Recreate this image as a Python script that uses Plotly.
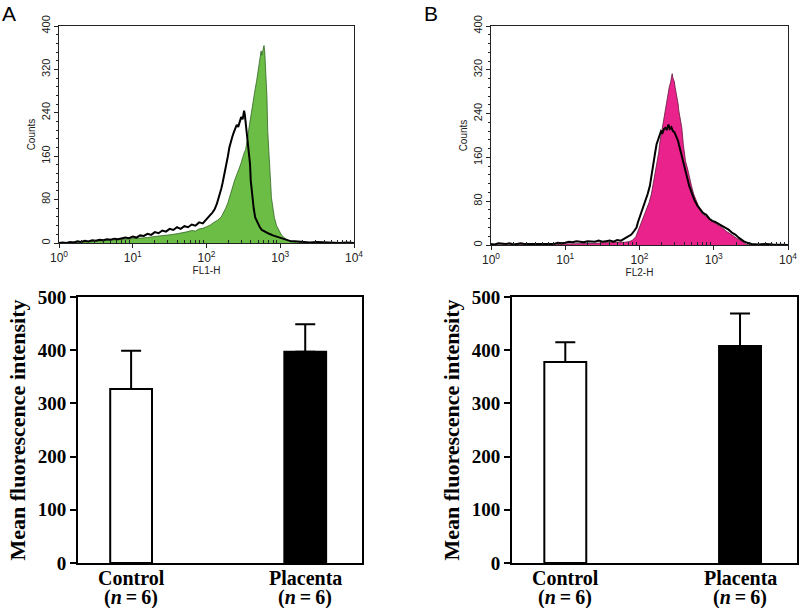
import plotly.graph_objects as go

# ---------------- data ----------------
# Panel A histogram (FL1-H): x in decades (log10 of channel), y counts
a_fill_log = [0.00,0.10,0.20,0.30,0.40,0.50,0.60,0.70,0.80,0.90,1.00,1.10,1.20,1.30,1.40,1.50,1.60,1.70,1.75,1.80,1.85,1.90,1.95,2.00,2.05,2.10,2.15,2.20,2.23,2.26,2.29,2.31,2.34,2.36,2.38,2.41,2.43,2.45,2.47,2.49,2.51,2.53,2.54,2.56,2.57,2.59,2.60,2.62,2.64,2.66,2.68,2.70,2.71,2.73,2.74,2.75,2.76,2.77,2.78,2.79,2.80,2.81,2.82,2.83,2.84,2.85,2.87,2.88,2.90,2.92,2.95,2.98,3.02,3.07,3.12,3.20,3.30,3.40,4.00]
a_fill_cnt = [0,1,1,2,2,3,4,4,6,6,8,9,10,12,13,15,17,19,21,23,22,26,27,30,33,38,42,48,55,64,74,84,98,106,115,126,135,140,148,158,166,172,178,195,207,225,238,252,268,284,299,318,330,342,354,346,352,360,364,352,330,300,268,207,176,146,110,84,62,47,32,23,14,8,4,2,1,0,0]
a_line_log = [0.00,0.05,0.10,0.15,0.20,0.25,0.30,0.35,0.40,0.45,0.50,0.55,0.60,0.65,0.70,0.75,0.80,0.85,0.90,0.95,1.00,1.05,1.10,1.15,1.20,1.25,1.30,1.35,1.40,1.45,1.50,1.55,1.60,1.65,1.70,1.75,1.80,1.85,1.90,1.95,2.00,2.04,2.08,2.11,2.14,2.17,2.20,2.22,2.25,2.27,2.29,2.31,2.33,2.35,2.37,2.39,2.41,2.43,2.45,2.47,2.49,2.51,2.52,2.53,2.54,2.55,2.56,2.58,2.59,2.60,2.61,2.62,2.64,2.66,2.69,2.72,2.75,2.80,2.85,2.90,2.95,3.00,3.05,3.10,3.15,3.20,3.30,3.40,3.50,3.60,3.70,3.80,3.90,4.00]
a_line_cnt = [0,1,0,2,1,3,2,4,3,5,4,6,5,7,6,8,7,9,10,9,12,10,14,13,17,15,20,18,23,21,26,24,29,26,31,29,34,32,38,36,45,50,56,62,72,84,100,112,130,146,160,176,188,196,204,210,218,214,226,232,228,244,236,224,207,190,176,160,146,115,100,84,64,47,38,30,24,20,17,14,12,9,8,5,3,3,2,1,2,1,1,0,1,0]

# Panel B histogram (FL2-H)
b_fill_log = [0.00,0.50,0.80,1.00,1.10,1.20,1.30,1.40,1.50,1.60,1.70,1.80,1.85,1.90,1.95,2.00,2.05,2.09,2.13,2.16,2.18,2.20,2.22,2.24,2.26,2.27,2.29,2.30,2.32,2.34,2.36,2.38,2.40,2.42,2.44,2.45,2.47,2.48,2.50,2.52,2.53,2.55,2.57,2.59,2.61,2.62,2.65,2.67,2.70,2.73,2.77,2.82,2.86,2.90,2.94,2.98,3.04,3.11,3.17,3.24,3.31,3.38,3.44,3.50,4.00]
b_fill_cnt = [0,0,1,2,2,3,3,3,4,4,5,5,6,8,15,32,48,62,78,93,108,123,138,153,170,184,200,214,230,245,260,275,288,298,313,305,298,288,275,258,245,230,214,184,165,153,138,123,108,93,78,62,55,52,47,44,38,32,25,19,12,7,1,0,0]
b_line_log = [0.00,0.05,0.10,0.15,0.20,0.25,0.30,0.35,0.40,0.45,0.50,0.55,0.60,0.65,0.70,0.75,0.80,0.85,0.90,0.95,1.00,1.05,1.10,1.15,1.20,1.25,1.30,1.35,1.40,1.45,1.50,1.55,1.60,1.65,1.70,1.75,1.80,1.85,1.89,1.93,1.96,1.98,2.00,2.02,2.04,2.07,2.11,2.14,2.16,2.18,2.19,2.21,2.23,2.26,2.29,2.31,2.33,2.35,2.37,2.39,2.41,2.43,2.45,2.47,2.50,2.52,2.53,2.56,2.59,2.61,2.64,2.67,2.71,2.74,2.78,2.82,2.86,2.90,2.94,2.98,3.02,3.07,3.11,3.16,3.20,3.25,3.29,3.34,3.40,3.45,3.51,3.60,3.70,3.80,3.90,4.00]
b_line_cnt = [2,1,3,2,2,3,1,2,3,2,2,3,2,3,2,3,3,2,4,3,4,6,5,7,6,5,7,6,6,8,6,7,8,6,9,8,12,15,19,26,32,42,50,55,62,76,93,108,123,138,153,168,184,196,208,205,212,214,210,220,212,215,208,206,198,190,184,168,153,138,123,108,93,82,72,64,58,55,48,44,42,38,35,32,28,22,19,13,7,4,2,1,2,1,1,0]

# Bar charts: mean fluorescence intensity (mean, SD), n = 6
group_names = ["Control", "Placenta"]
group_n = ["(<i>n</i>\u2009=\u20096)", "(<i>n</i>\u2009=\u20096)"]
a_mean = [327, 397]
a_err = [72, 52]
b_mean = [378, 408]
b_err = [37, 61]

count_ticks = [0, 80, 160, 240, 320, 400]
decade_vals = [1, 10, 100, 1000, 10000]
decade_text = ["10<sup>0</sup>", "10<sup>1</sup>", "10<sup>2</sup>", "10<sup>3</sup>", "10<sup>4</sup>"]
mfi_ticks = [0, 100, 200, 300, 400, 500]

# ---------------- figure ----------------
fig = go.Figure()

def pw(v):
    return [10 ** x for x in v]

fig.add_trace(go.Scatter(x=pw(a_fill_log), y=a_fill_cnt, mode="lines", fill="tozeroy",
                         fillcolor="rgb(108,189,70)", line=dict(color="rgb(50,100,35)", width=0.8),
                         xaxis="x", yaxis="y", hoverinfo="skip"))
fig.add_trace(go.Scatter(x=pw(a_line_log), y=a_line_cnt, mode="lines",
                         line=dict(color="black", width=2), xaxis="x", yaxis="y", hoverinfo="skip"))
fig.add_trace(go.Scatter(x=pw(b_fill_log), y=b_fill_cnt, mode="lines", fill="tozeroy",
                         fillcolor="rgb(233,34,140)", line=dict(color="rgb(100,25,60)", width=0.8),
                         xaxis="x2", yaxis="y2", hoverinfo="skip"))
fig.add_trace(go.Scatter(x=pw(b_line_log), y=b_line_cnt, mode="lines",
                         line=dict(color="black", width=2), xaxis="x2", yaxis="y2", hoverinfo="skip"))

for mean, err, xa, ya in [(a_mean, a_err, "x3", "y3"), (b_mean, b_err, "x4", "y4")]:
    fig.add_trace(go.Bar(x=[0, 1], y=mean, width=0.24,
                         marker=dict(color=["white", "black"], line=dict(color="black", width=2)),
                         error_y=dict(type="data", symmetric=False, array=err, arrayminus=[0, 0],
                                      color="black", thickness=2, width=10),
                         xaxis=xa, yaxis=ya, hoverinfo="skip"))

H = 608.0
W = 799.0
sans = "Liberation Sans, Arial"
serif = "Liberation Serif, Times New Roman"
tick_font_x = dict(family=sans, size=12, color="#222")
tick_font_y = dict(family=sans, size=11, color="#222")
minor_x = [k * 10 ** d for d in range(4) for k in range(2, 10)]

def hist_x(domain, title, anchor):
    return dict(domain=domain, anchor=anchor, type="log", range=[0, 4],
                tickvals=decade_vals, ticktext=decade_text, tickfont=tick_font_x,
                ticks="outside", ticklen=4, tickcolor="#222",
                minor=dict(tickvals=minor_x, ticks="inside", ticklen=3, tickcolor="#222"),
                showline=True, mirror=True, linecolor="#222", linewidth=1, showgrid=False, zeroline=False,
                title=dict(text=title, font=dict(family=sans, size=10, color="#222"), standoff=0),
                automargin=False)

def hist_y(domain, anchor):
    return dict(domain=domain, anchor=anchor, range=[0, 400], tickvals=count_ticks, tickangle=-90,
                tickfont=tick_font_y, ticks="outside", ticklen=4, tickcolor="#222",
                minor=dict(dtick=16, ticks="outside", ticklen=2, tickcolor="#222"),
                showline=True, mirror=True, linecolor="#222", linewidth=1, showgrid=False, zeroline=False,
                title=dict(text="Counts", font=dict(family=sans, size=10, color="#222"), standoff=2),
                automargin=False)

def bar_x(domain, anchor):
    return dict(domain=domain, anchor=anchor, range=[-0.305, 1.326], tickvals=[0, 1], showticklabels=False,
                ticks="", showline=True, mirror=True, linecolor="black", linewidth=2,
                showgrid=False, zeroline=False, automargin=False)

def bar_y(domain, anchor):
    return dict(domain=domain, anchor=anchor, range=[0, 500], tickvals=mfi_ticks,
                tickfont=dict(family=serif, size=19, color="black", weight=700),
                ticks="outside", ticklen=6, tickwidth=2, tickcolor="black",
                showline=True, mirror=True, linecolor="black", linewidth=2, showgrid=False, zeroline=False,
                title=dict(text="Mean fluorescence intensity",
                           font=dict(family=serif, size=22, color="black", weight=700), standoff=6),
                automargin=False)

annotations = [
    dict(text="A", x=0 / W, y=1.0, xref="paper", yref="paper", xanchor="left", yanchor="top",
         showarrow=False, font=dict(family=sans, size=21, color="black")),
    dict(text="B", x=422 / W, y=1.0, xref="paper", yref="paper", xanchor="left", yanchor="top",
         showarrow=False, font=dict(family=sans, size=21, color="black")),
]
for xa, ya in [("x3", "y3"), ("x4", "y4")]:
    for i in range(2):
        annotations.append(dict(text=group_names[i], x=i, y=0, xref=xa, yref=ya + " domain",
                                xanchor="center", yanchor="middle", yshift=-15, showarrow=False,
                                font=dict(family=serif, size=20, color="black", weight=700)))
        annotations.append(dict(text=group_n[i], x=i, y=0, xref=xa, yref=ya + " domain",
                                xanchor="center", yanchor="middle", yshift=-34, showarrow=False,
                                font=dict(family=serif, size=20, color="black", weight=700)))

fig.update_layout(
    width=799, height=608, margin=dict(l=0, r=0, t=0, b=0),
    paper_bgcolor="white", plot_bgcolor="white", showlegend=False,
    xaxis=hist_x([59 / W, 354 / W], "FL1-H", "y"),
    yaxis=hist_y([(H - 243) / H, (H - 26) / H], "x"),
    xaxis2=hist_x([491 / W, 788 / W], "FL2-H", "y2"),
    yaxis2=hist_y([(H - 245) / H, (H - 26) / H], "x2"),
    xaxis3=bar_x([78 / W, 362 / W], "y3"),
    yaxis3=bar_y([(H - 563) / H, (H - 297) / H], "x3"),
    xaxis4=bar_x([512 / W, 797 / W], "y4"),
    yaxis4=bar_y([(H - 563) / H, (H - 297) / H], "x4"),
    annotations=annotations,
)

fig.write_html("out.html", config={"displayModeBar": False},
               post_script="document.body.style.margin='0px';document.body.style.overflow='hidden';")
